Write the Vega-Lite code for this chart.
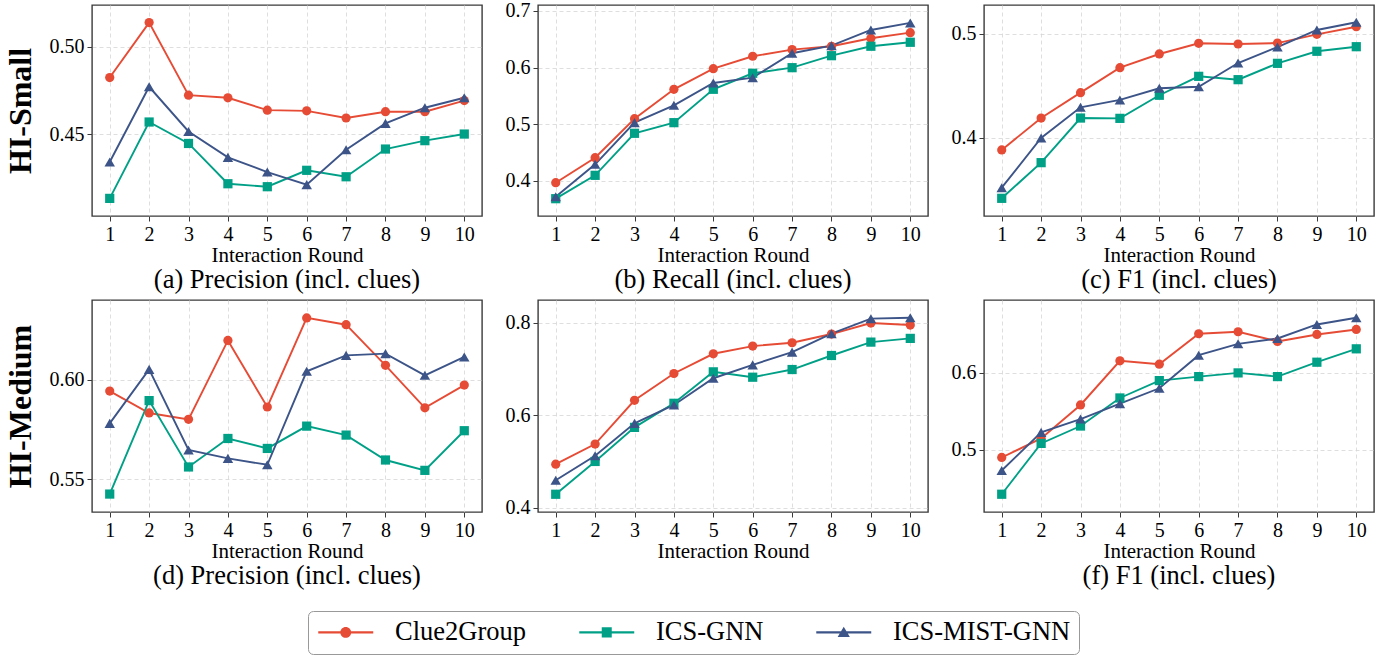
{
  "$schema": "https://vega.github.io/schema/vega-lite/v6.json",
  "padding": {"left": 3, "top": 0, "right": 0, "bottom": 0},
  "background": "white",
  "datasets": {
    "d": [
      {"p":"a","s":"Clue2Group","r":1,"v":0.4824},{"p":"a","s":"Clue2Group","r":2,"v":0.5139},{"p":"a","s":"Clue2Group","r":3,"v":0.4723},{"p":"a","s":"Clue2Group","r":4,"v":0.4708},{"p":"a","s":"Clue2Group","r":5,"v":0.4637},{"p":"a","s":"Clue2Group","r":6,"v":0.4633},{"p":"a","s":"Clue2Group","r":7,"v":0.4592},{"p":"a","s":"Clue2Group","r":8,"v":0.4628},{"p":"a","s":"Clue2Group","r":9,"v":0.4628},{"p":"a","s":"Clue2Group","r":10,"v":0.4692},
      {"p":"a","s":"ICS-GNN","r":1,"v":0.4131},{"p":"a","s":"ICS-GNN","r":2,"v":0.4569},{"p":"a","s":"ICS-GNN","r":3,"v":0.4446},{"p":"a","s":"ICS-GNN","r":4,"v":0.4215},{"p":"a","s":"ICS-GNN","r":5,"v":0.4198},{"p":"a","s":"ICS-GNN","r":6,"v":0.4292},{"p":"a","s":"ICS-GNN","r":7,"v":0.4255},{"p":"a","s":"ICS-GNN","r":8,"v":0.4414},{"p":"a","s":"ICS-GNN","r":9,"v":0.4462},{"p":"a","s":"ICS-GNN","r":10,"v":0.4500},
      {"p":"a","s":"ICS-MIST-GNN","r":1,"v":0.4340},{"p":"a","s":"ICS-MIST-GNN","r":2,"v":0.4771},{"p":"a","s":"ICS-MIST-GNN","r":3,"v":0.4515},{"p":"a","s":"ICS-MIST-GNN","r":4,"v":0.4366},{"p":"a","s":"ICS-MIST-GNN","r":5,"v":0.4282},{"p":"a","s":"ICS-MIST-GNN","r":6,"v":0.4210},{"p":"a","s":"ICS-MIST-GNN","r":7,"v":0.4410},{"p":"a","s":"ICS-MIST-GNN","r":8,"v":0.4561},{"p":"a","s":"ICS-MIST-GNN","r":9,"v":0.4651},{"p":"a","s":"ICS-MIST-GNN","r":10,"v":0.4708},
      {"p":"b","s":"Clue2Group","r":1,"v":0.3965},{"p":"b","s":"Clue2Group","r":2,"v":0.4407},{"p":"b","s":"Clue2Group","r":3,"v":0.5096},{"p":"b","s":"Clue2Group","r":4,"v":0.5616},{"p":"b","s":"Clue2Group","r":5,"v":0.5980},{"p":"b","s":"Clue2Group","r":6,"v":0.6200},{"p":"b","s":"Clue2Group","r":7,"v":0.6317},{"p":"b","s":"Clue2Group","r":8,"v":0.6377},{"p":"b","s":"Clue2Group","r":9,"v":0.6518},{"p":"b","s":"Clue2Group","r":10,"v":0.6617},
      {"p":"b","s":"ICS-GNN","r":1,"v":0.3682},{"p":"b","s":"ICS-GNN","r":2,"v":0.4095},{"p":"b","s":"ICS-GNN","r":3,"v":0.4838},{"p":"b","s":"ICS-GNN","r":4,"v":0.5026},{"p":"b","s":"ICS-GNN","r":5,"v":0.5616},{"p":"b","s":"ICS-GNN","r":6,"v":0.5899},{"p":"b","s":"ICS-GNN","r":7,"v":0.5998},{"p":"b","s":"ICS-GNN","r":8,"v":0.6210},{"p":"b","s":"ICS-GNN","r":9,"v":0.6377},{"p":"b","s":"ICS-GNN","r":10,"v":0.6447},
      {"p":"b","s":"ICS-MIST-GNN","r":1,"v":0.3717},{"p":"b","s":"ICS-MIST-GNN","r":2,"v":0.4290},{"p":"b","s":"ICS-MIST-GNN","r":3,"v":0.5026},{"p":"b","s":"ICS-MIST-GNN","r":4,"v":0.5333},{"p":"b","s":"ICS-MIST-GNN","r":5,"v":0.5728},{"p":"b","s":"ICS-MIST-GNN","r":6,"v":0.5821},{"p":"b","s":"ICS-MIST-GNN","r":7,"v":0.6253},{"p":"b","s":"ICS-MIST-GNN","r":8,"v":0.6387},{"p":"b","s":"ICS-MIST-GNN","r":9,"v":0.6665},{"p":"b","s":"ICS-MIST-GNN","r":10,"v":0.6789},
      {"p":"c","s":"Clue2Group","r":1,"v":0.3882},{"p":"c","s":"Clue2Group","r":2,"v":0.4189},{"p":"c","s":"Clue2Group","r":3,"v":0.4433},{"p":"c","s":"Clue2Group","r":4,"v":0.4673},{"p":"c","s":"Clue2Group","r":5,"v":0.4805},{"p":"c","s":"Clue2Group","r":6,"v":0.4908},{"p":"c","s":"Clue2Group","r":7,"v":0.4901},{"p":"c","s":"Clue2Group","r":8,"v":0.4910},{"p":"c","s":"Clue2Group","r":9,"v":0.4994},{"p":"c","s":"Clue2Group","r":10,"v":0.5067},
      {"p":"c","s":"ICS-GNN","r":1,"v":0.3417},{"p":"c","s":"ICS-GNN","r":2,"v":0.3760},{"p":"c","s":"ICS-GNN","r":3,"v":0.4189},{"p":"c","s":"ICS-GNN","r":4,"v":0.4186},{"p":"c","s":"ICS-GNN","r":5,"v":0.4408},{"p":"c","s":"ICS-GNN","r":6,"v":0.4590},{"p":"c","s":"ICS-GNN","r":7,"v":0.4558},{"p":"c","s":"ICS-GNN","r":8,"v":0.4715},{"p":"c","s":"ICS-GNN","r":9,"v":0.4831},{"p":"c","s":"ICS-GNN","r":10,"v":0.4875},
      {"p":"c","s":"ICS-MIST-GNN","r":1,"v":0.3519},{"p":"c","s":"ICS-MIST-GNN","r":2,"v":0.3997},{"p":"c","s":"ICS-MIST-GNN","r":3,"v":0.4292},{"p":"c","s":"ICS-MIST-GNN","r":4,"v":0.4363},{"p":"c","s":"ICS-MIST-GNN","r":5,"v":0.4475},{"p":"c","s":"ICS-MIST-GNN","r":6,"v":0.4490},{"p":"c","s":"ICS-MIST-GNN","r":7,"v":0.4718},{"p":"c","s":"ICS-MIST-GNN","r":8,"v":0.4872},{"p":"c","s":"ICS-MIST-GNN","r":9,"v":0.5036},{"p":"c","s":"ICS-MIST-GNN","r":10,"v":0.5110},
      {"p":"d","s":"Clue2Group","r":1,"v":0.5943},{"p":"d","s":"Clue2Group","r":2,"v":0.5833},{"p":"d","s":"Clue2Group","r":3,"v":0.5801},{"p":"d","s":"Clue2Group","r":4,"v":0.6197},{"p":"d","s":"Clue2Group","r":5,"v":0.5863},{"p":"d","s":"Clue2Group","r":6,"v":0.6310},{"p":"d","s":"Clue2Group","r":7,"v":0.6276},{"p":"d","s":"Clue2Group","r":8,"v":0.6072},{"p":"d","s":"Clue2Group","r":9,"v":0.5859},{"p":"d","s":"Clue2Group","r":10,"v":0.5973},
      {"p":"d","s":"ICS-GNN","r":1,"v":0.5426},{"p":"d","s":"ICS-GNN","r":2,"v":0.5895},{"p":"d","s":"ICS-GNN","r":3,"v":0.5562},{"p":"d","s":"ICS-GNN","r":4,"v":0.5705},{"p":"d","s":"ICS-GNN","r":5,"v":0.5655},{"p":"d","s":"ICS-GNN","r":6,"v":0.5767},{"p":"d","s":"ICS-GNN","r":7,"v":0.5722},{"p":"d","s":"ICS-GNN","r":8,"v":0.5597},{"p":"d","s":"ICS-GNN","r":9,"v":0.5545},{"p":"d","s":"ICS-GNN","r":10,"v":0.5744},
      {"p":"d","s":"ICS-MIST-GNN","r":1,"v":0.5781},{"p":"d","s":"ICS-MIST-GNN","r":2,"v":0.6052},{"p":"d","s":"ICS-MIST-GNN","r":3,"v":0.5647},{"p":"d","s":"ICS-MIST-GNN","r":4,"v":0.5605},{"p":"d","s":"ICS-MIST-GNN","r":5,"v":0.5573},{"p":"d","s":"ICS-MIST-GNN","r":6,"v":0.6042},{"p":"d","s":"ICS-MIST-GNN","r":7,"v":0.6122},{"p":"d","s":"ICS-MIST-GNN","r":8,"v":0.6131},{"p":"d","s":"ICS-MIST-GNN","r":9,"v":0.6022},{"p":"d","s":"ICS-MIST-GNN","r":10,"v":0.6114},
      {"p":"e","s":"Clue2Group","r":1,"v":0.4946},{"p":"e","s":"Clue2Group","r":2,"v":0.5379},{"p":"e","s":"Clue2Group","r":3,"v":0.6325},{"p":"e","s":"Clue2Group","r":4,"v":0.6903},{"p":"e","s":"Clue2Group","r":5,"v":0.7329},{"p":"e","s":"Clue2Group","r":6,"v":0.7495},{"p":"e","s":"Clue2Group","r":7,"v":0.7567},{"p":"e","s":"Clue2Group","r":8,"v":0.7755},{"p":"e","s":"Clue2Group","r":9,"v":0.7993},{"p":"e","s":"Clue2Group","r":10,"v":0.7949},
      {"p":"e","s":"ICS-GNN","r":1,"v":0.4296},{"p":"e","s":"ICS-GNN","r":2,"v":0.5004},{"p":"e","s":"ICS-GNN","r":3,"v":0.5740},{"p":"e","s":"ICS-GNN","r":4,"v":0.6260},{"p":"e","s":"ICS-GNN","r":5,"v":0.6939},{"p":"e","s":"ICS-GNN","r":6,"v":0.6823},{"p":"e","s":"ICS-GNN","r":7,"v":0.6989},{"p":"e","s":"ICS-GNN","r":8,"v":0.7292},{"p":"e","s":"ICS-GNN","r":9,"v":0.7581},{"p":"e","s":"ICS-GNN","r":10,"v":0.7661},
      {"p":"e","s":"ICS-MIST-GNN","r":1,"v":0.4599},{"p":"e","s":"ICS-MIST-GNN","r":2,"v":0.5126},{"p":"e","s":"ICS-MIST-GNN","r":3,"v":0.5827},{"p":"e","s":"ICS-MIST-GNN","r":4,"v":0.6224},{"p":"e","s":"ICS-MIST-GNN","r":5,"v":0.6801},{"p":"e","s":"ICS-MIST-GNN","r":6,"v":0.7090},{"p":"e","s":"ICS-MIST-GNN","r":7,"v":0.7365},{"p":"e","s":"ICS-MIST-GNN","r":8,"v":0.7762},{"p":"e","s":"ICS-MIST-GNN","r":9,"v":0.8087},{"p":"e","s":"ICS-MIST-GNN","r":10,"v":0.8108},
      {"p":"f","s":"Clue2Group","r":1,"v":0.4900},{"p":"f","s":"Clue2Group","r":2,"v":0.5148},{"p":"f","s":"Clue2Group","r":3,"v":0.5583},{"p":"f","s":"Clue2Group","r":4,"v":0.6157},{"p":"f","s":"Clue2Group","r":5,"v":0.6113},{"p":"f","s":"Clue2Group","r":6,"v":0.6509},{"p":"f","s":"Clue2Group","r":7,"v":0.6535},{"p":"f","s":"Clue2Group","r":8,"v":0.6409},{"p":"f","s":"Clue2Group","r":9,"v":0.6500},{"p":"f","s":"Clue2Group","r":10,"v":0.6565},
      {"p":"f","s":"ICS-GNN","r":1,"v":0.4422},{"p":"f","s":"ICS-GNN","r":2,"v":0.5083},{"p":"f","s":"ICS-GNN","r":3,"v":0.5309},{"p":"f","s":"ICS-GNN","r":4,"v":0.5674},{"p":"f","s":"ICS-GNN","r":5,"v":0.5900},{"p":"f","s":"ICS-GNN","r":6,"v":0.5952},{"p":"f","s":"ICS-GNN","r":7,"v":0.6000},{"p":"f","s":"ICS-GNN","r":8,"v":0.5952},{"p":"f","s":"ICS-GNN","r":9,"v":0.6139},{"p":"f","s":"ICS-GNN","r":10,"v":0.6313},
      {"p":"f","s":"ICS-MIST-GNN","r":1,"v":0.4730},{"p":"f","s":"ICS-MIST-GNN","r":2,"v":0.5226},{"p":"f","s":"ICS-MIST-GNN","r":3,"v":0.5400},{"p":"f","s":"ICS-MIST-GNN","r":4,"v":0.5600},{"p":"f","s":"ICS-MIST-GNN","r":5,"v":0.5800},{"p":"f","s":"ICS-MIST-GNN","r":6,"v":0.6230},{"p":"f","s":"ICS-MIST-GNN","r":7,"v":0.6378},{"p":"f","s":"ICS-MIST-GNN","r":8,"v":0.6448},{"p":"f","s":"ICS-MIST-GNN","r":9,"v":0.6630},{"p":"f","s":"ICS-MIST-GNN","r":10,"v":0.6717}
    ]
  },
  "columns": 3,
  "spacing": {"row": 84, "column": 56},
  "bounds": "flush",
  "resolve": {"scale": {"color": "independent", "shape": "independent"}, "legend": {"color": "independent", "shape": "independent"}},
  "concat": [
    {
      "width": 390, "height": 211,
      "data": {"name": "d"},
      "transform": [{"filter": "datum.p == 'a'"}],
      "title": {"text": "(a) Precision (incl. clues)"},
      "encoding": {
        "x": {"field": "r", "type": "quantitative", "scale": {"domain": [0.55, 10.45], "nice": false, "zero": false}, "axis": {"values": [1,2,3,4,5,6,7,8,9,10], "format": "d", "title": "Interaction Round"}},
        "y": {"field": "v", "type": "quantitative", "scale": {"domain": [0.403, 0.524], "nice": false, "zero": false}, "axis": {"values": [0.45, 0.5], "format": ".2f", "title": "HI-Small", "titleFontSize": 32, "titleFontWeight": "bold", "titleX": -72, "titleY": 105.5, "titleAngle": -90, "titleBaseline": "middle", "titleAlign": "center"}},
        "color": {"field": "s", "type": "nominal", "scale": {"domain": ["Clue2Group", "ICS-GNN", "ICS-MIST-GNN"], "range": ["#E64B35", "#00A087", "#3C5488"]}, "legend": null}
      },
      "layer": [
        {"mark": {"type": "line", "strokeWidth": 1.9}},
        {"transform": [{"filter": "datum.s == 'Clue2Group'"}], "mark": {"type": "point", "filled": true, "opacity": 1, "shape": "circle", "size": 85}},
        {"transform": [{"filter": "datum.s == 'ICS-GNN'"}], "mark": {"type": "point", "filled": true, "opacity": 1, "shape": "square", "size": 85}},
        {"transform": [{"filter": "datum.s == 'ICS-MIST-GNN'"}], "mark": {"type": "point", "filled": true, "opacity": 1, "shape": "triangle-up", "size": 110}}
      ]
    },
    {
      "width": 390, "height": 211,
      "data": {"name": "d"},
      "transform": [{"filter": "datum.p == 'b'"}],
      "title": {"text": "(b) Recall (incl. clues)"},
      "encoding": {
        "x": {"field": "r", "type": "quantitative", "scale": {"domain": [0.55, 10.45], "nice": false, "zero": false}, "axis": {"values": [1,2,3,4,5,6,7,8,9,10], "format": "d", "title": "Interaction Round"}},
        "y": {"field": "v", "type": "quantitative", "scale": {"domain": [0.3376, 0.7106], "nice": false, "zero": false}, "axis": {"values": [0.4, 0.5, 0.6, 0.7], "format": ".1f", "title": null}},
        "color": {"field": "s", "type": "nominal", "scale": {"domain": ["Clue2Group", "ICS-GNN", "ICS-MIST-GNN"], "range": ["#E64B35", "#00A087", "#3C5488"]}, "legend": null}
      },
      "layer": [
        {"mark": {"type": "line", "strokeWidth": 1.9}},
        {"transform": [{"filter": "datum.s == 'Clue2Group'"}], "mark": {"type": "point", "filled": true, "opacity": 1, "shape": "circle", "size": 85}},
        {"transform": [{"filter": "datum.s == 'ICS-GNN'"}], "mark": {"type": "point", "filled": true, "opacity": 1, "shape": "square", "size": 85}},
        {"transform": [{"filter": "datum.s == 'ICS-MIST-GNN'"}], "mark": {"type": "point", "filled": true, "opacity": 1, "shape": "triangle-up", "size": 110}}
      ]
    },
    {
      "width": 390, "height": 211,
      "data": {"name": "d"},
      "transform": [{"filter": "datum.p == 'c'"}],
      "title": {"text": "(c) F1 (incl. clues)"},
      "encoding": {
        "x": {"field": "r", "type": "quantitative", "scale": {"domain": [0.55, 10.45], "nice": false, "zero": false}, "axis": {"values": [1,2,3,4,5,6,7,8,9,10], "format": "d", "title": "Interaction Round"}},
        "y": {"field": "v", "type": "quantitative", "scale": {"domain": [0.3247, 0.5276], "nice": false, "zero": false}, "axis": {"values": [0.4, 0.5], "format": ".1f", "title": null}},
        "color": {"field": "s", "type": "nominal", "scale": {"domain": ["Clue2Group", "ICS-GNN", "ICS-MIST-GNN"], "range": ["#E64B35", "#00A087", "#3C5488"]}, "legend": null}
      },
      "layer": [
        {"mark": {"type": "line", "strokeWidth": 1.9}},
        {"transform": [{"filter": "datum.s == 'Clue2Group'"}], "mark": {"type": "point", "filled": true, "opacity": 1, "shape": "circle", "size": 85}},
        {"transform": [{"filter": "datum.s == 'ICS-GNN'"}], "mark": {"type": "point", "filled": true, "opacity": 1, "shape": "square", "size": 85}},
        {"transform": [{"filter": "datum.s == 'ICS-MIST-GNN'"}], "mark": {"type": "point", "filled": true, "opacity": 1, "shape": "triangle-up", "size": 110}}
      ]
    },
    {
      "width": 390, "height": 212,
      "data": {"name": "d"},
      "transform": [{"filter": "datum.p == 'd'"}],
      "title": {"text": "(d) Precision (incl. clues)"},
      "encoding": {
        "x": {"field": "r", "type": "quantitative", "scale": {"domain": [0.55, 10.45], "nice": false, "zero": false}, "axis": {"values": [1,2,3,4,5,6,7,8,9,10], "format": "d", "title": "Interaction Round"}},
        "y": {"field": "v", "type": "quantitative", "scale": {"domain": [0.5336, 0.640], "nice": false, "zero": false}, "axis": {"values": [0.55, 0.6], "format": ".2f", "title": "HI-Medium", "titleFontSize": 32, "titleFontWeight": "bold", "titleX": -72, "titleY": 106, "titleAngle": -90, "titleBaseline": "middle", "titleAlign": "center"}},
        "color": {"field": "s", "type": "nominal", "scale": {"domain": ["Clue2Group", "ICS-GNN", "ICS-MIST-GNN"], "range": ["#E64B35", "#00A087", "#3C5488"]}, "legend": null}
      },
      "layer": [
        {"mark": {"type": "line", "strokeWidth": 1.9}},
        {"transform": [{"filter": "datum.s == 'Clue2Group'"}], "mark": {"type": "point", "filled": true, "opacity": 1, "shape": "circle", "size": 85}},
        {"transform": [{"filter": "datum.s == 'ICS-GNN'"}], "mark": {"type": "point", "filled": true, "opacity": 1, "shape": "square", "size": 85}},
        {"transform": [{"filter": "datum.s == 'ICS-MIST-GNN'"}], "mark": {"type": "point", "filled": true, "opacity": 1, "shape": "triangle-up", "size": 110}}
      ]
    },
    {
      "width": 390, "height": 212,
      "data": {"name": "d"},
      "transform": [{"filter": "datum.p == 'e'"}],
      "title": {"text": "(e) Recall (incl. clues)"},
      "encoding": {
        "x": {"field": "r", "type": "quantitative", "scale": {"domain": [0.55, 10.45], "nice": false, "zero": false}, "axis": {"values": [1,2,3,4,5,6,7,8,9,10], "format": "d", "title": "Interaction Round"}},
        "y": {"field": "v", "type": "quantitative", "scale": {"domain": [0.3913, 0.849], "nice": false, "zero": false}, "axis": {"values": [0.4, 0.6, 0.8], "format": ".1f", "title": null}},
        "color": {"field": "s", "type": "nominal", "scale": {"domain": ["Clue2Group", "ICS-GNN", "ICS-MIST-GNN"], "range": ["#E64B35", "#00A087", "#3C5488"]}, "legend": null}
      },
      "layer": [
        {
          "mark": {"type": "point", "filled": true, "opacity": 0, "size": 10},
          "encoding": {
            "shape": {"field": "s", "type": "nominal", "scale": {"domain": ["Clue2Group", "ICS-GNN", "ICS-MIST-GNN"], "range": ["M-2.115,-0.077H2.115V0.077H-2.115Z M-0.42,0A0.42,0.42 0 1,1 0.42,0A0.42,0.42 0 1,1 -0.42,0Z", "M-2.115,-0.077H2.115V0.077H-2.115Z M-0.385,-0.385H0.385V0.385H-0.385Z", "M-2.115,-0.077H2.115V0.077H-2.115Z M0,-0.44L0.47,0.36L-0.47,0.36Z"]},
              "legend": {"title": null, "orient": "none", "legendX": -230, "legendY": 311, "direction": "horizontal", "symbolSize": 676, "symbolOffset": 16.5, "symbolStrokeWidth": 0, "symbolOpacity": 1, "labelFont": "Liberation Serif", "labelFontSize": 26.5, "labelColor": "black", "labelOffset": 36, "columnPadding": 50, "padding": 8, "strokeColor": "#999999", "cornerRadius": 5, "fillColor": "white", "labelLimit": 400}},
            "color": {"field": "s", "type": "nominal", "scale": {"domain": ["Clue2Group", "ICS-GNN", "ICS-MIST-GNN"], "range": ["#E64B35", "#00A087", "#3C5488"]},
              "legend": {"title": null, "orient": "none", "legendX": -230, "legendY": 311, "direction": "horizontal", "symbolSize": 676, "symbolOffset": 16.5, "symbolStrokeWidth": 0, "symbolOpacity": 1, "labelFont": "Liberation Serif", "labelFontSize": 26.5, "labelColor": "black", "labelOffset": 36, "columnPadding": 50, "padding": 8, "strokeColor": "#999999", "cornerRadius": 5, "fillColor": "white", "labelLimit": 400}}
          }
        },
        {"mark": {"type": "line", "strokeWidth": 1.9}},
        {"transform": [{"filter": "datum.s == 'Clue2Group'"}], "mark": {"type": "point", "filled": true, "opacity": 1, "shape": "circle", "size": 85}},
        {"transform": [{"filter": "datum.s == 'ICS-GNN'"}], "mark": {"type": "point", "filled": true, "opacity": 1, "shape": "square", "size": 85}},
        {"transform": [{"filter": "datum.s == 'ICS-MIST-GNN'"}], "mark": {"type": "point", "filled": true, "opacity": 1, "shape": "triangle-up", "size": 110}}
      ]
    },
    {
      "width": 390, "height": 212,
      "data": {"name": "d"},
      "transform": [{"filter": "datum.p == 'f'"}],
      "title": {"text": "(f) F1 (incl. clues)"},
      "encoding": {
        "x": {"field": "r", "type": "quantitative", "scale": {"domain": [0.55, 10.45], "nice": false, "zero": false}, "axis": {"values": [1,2,3,4,5,6,7,8,9,10], "format": "d", "title": "Interaction Round"}},
        "y": {"field": "v", "type": "quantitative", "scale": {"domain": [0.4191, 0.6948], "nice": false, "zero": false}, "axis": {"values": [0.5, 0.6], "format": ".1f", "title": null}},
        "color": {"field": "s", "type": "nominal", "scale": {"domain": ["Clue2Group", "ICS-GNN", "ICS-MIST-GNN"], "range": ["#E64B35", "#00A087", "#3C5488"]}, "legend": null}
      },
      "layer": [
        {"mark": {"type": "line", "strokeWidth": 1.9}},
        {"transform": [{"filter": "datum.s == 'Clue2Group'"}], "mark": {"type": "point", "filled": true, "opacity": 1, "shape": "circle", "size": 85}},
        {"transform": [{"filter": "datum.s == 'ICS-GNN'"}], "mark": {"type": "point", "filled": true, "opacity": 1, "shape": "square", "size": 85}},
        {"transform": [{"filter": "datum.s == 'ICS-MIST-GNN'"}], "mark": {"type": "point", "filled": true, "opacity": 1, "shape": "triangle-up", "size": 110}}
      ]
    }
  ],
  "config": {
    "view": {"stroke": "#3a3a3a", "strokeWidth": 1.4},
    "title": {"font": "Liberation Serif", "fontSize": 26.5, "fontWeight": "normal", "color": "black", "orient": "bottom", "anchor": "middle", "offset": 1},
    "axis": {"labelFont": "Liberation Serif", "labelFontSize": 20, "labelColor": "black", "titleFont": "Liberation Serif", "titleFontSize": 21, "titleFontWeight": "normal", "titleColor": "black", "domain": false, "tickColor": "#3a3a3a", "tickSize": 5, "tickWidth": 1, "labelPadding": 3, "grid": true, "gridColor": "#d6d6d6", "gridDash": [4, 3], "gridWidth": 0.8},
    "axisX": {"titlePadding": 0.5, "labelFlush": false},
    "axisY": {"labelFlush": false}
  }
}
